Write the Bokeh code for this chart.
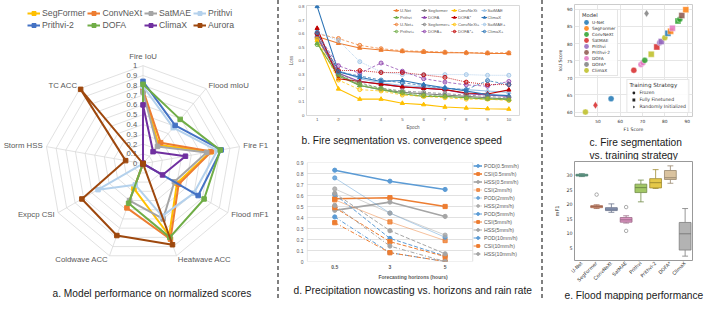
import math
from bokeh.plotting import figure
from bokeh.models import Legend, LegendItem, Title, Div, FixedTicker, FactorRange, ColumnDataSource
from bokeh.transform import dodge
from bokeh.layouts import row, column
from bokeh.embed import file_html
from bokeh.resources import INLINE
from bokeh.core.properties import value

# ================= (a) radar data =================
radar_axes = ["Fire IoU", "Flood mIoU", "Fire F1", "Flood mF1", "Heatwave ACC",
              "Coldwave ACC", "Expcp CSI", "Storm HSS", "TC ACC"]
radar_ticks = [0, 0.1, 0.2, 0.3, 0.4, 0.5, 0.6, 0.7, 0.8, 0.9, 1]
radar_tick_labels = ["0", "0.1", "0.2", "0.3", "0.4", "0.5", "0.6", "0.7", "0.8", "0.9", "1"]
radar_models = ["SegFormer", "ConvNeXt", "SatMAE", "Prithvi", "Prithvi-2", "DOFA", "ClimaX", "Aurora"]
segformer_norm = [0.74, 0.25, 0.70, 0.40, 0.78, 0.27, 0, 0, 0]
convnext_norm = [0.75, 0.28, 0.71, 0.42, 0.82, 0.48, 0, 0, 0]
satmae_norm = [0.73, 0.23, 0.66, 0.37, 0.60, 0.40, 0, 0, 0]
prithvi_norm = [0.79, 0.48, 0.77, 0.60, 0.57, 0.23, 0.53, 0, 0]
prithvi2_norm = [0.84, 0.51, 0.81, 0.65, 0, 0, 0, 0, 0]
dofa_norm = [0.81, 0.59, 0.80, 0.72, 0.80, 0.43, 0, 0, 0]
climax_norm = [0.60, 0.16, 0.44, 0.23, 0, 0, 0, 0, 0]
aurora_norm = [0, 0, 0, 0, 0.88, 0.78, 0.72, 0.18, 0.99]

# ================= (b) convergence data =================
epochs = [1, 2, 3, 4, 5, 6, 7, 8, 9, 10]
loss_ticks = [0, 0.1, 0.2, 0.3, 0.4, 0.5, 0.6, 0.7, 0.8]
loss_tick_labels = ["0", "0.1", "0.2", "0.3", "0.4", "0.5", "0.6", "0.7", "0.8"]
b_names = ["U-Net", "Segformer", "ConvNeXt", "SatMAE", "Prithvi", "DOFA", "DOFA*", "ClimaX",
           "U-Net+", "Segformer+", "ConvNeXt+", "SatMAE+", "Prithvi+", "DOFA+", "DOFA*+", "ClimaX+"]
unet_loss = [0.58, 0.53, 0.495, 0.48, 0.47, 0.465, 0.46, 0.46, 0.455, 0.455]
segformer_loss = [0.57, 0.30, 0.22, 0.19, 0.17, 0.16, 0.15, 0.14, 0.13, 0.12]
convnext_loss = [0.55, 0.195, 0.12, 0.12, 0.09, 0.08, 0.062, 0.055, 0.05, 0.047]
satmae_loss = [0.60, 0.33, 0.27, 0.24, 0.22, 0.21, 0.20, 0.19, 0.18, 0.17]
prithvi_loss = [0.53, 0.29, 0.22, 0.19, 0.16, 0.14, 0.14, 0.13, 0.12, 0.12]
dofa_loss = [0.58, 0.31, 0.25, 0.23, 0.21, 0.20, 0.19, 0.16, 0.15, 0.14]
dofastar_loss = [0.64, 0.27, 0.25, 0.23, 0.21, 0.20, 0.19, 0.165, 0.158, 0.188]
climax_loss = [0.80, 0.32, 0.28, 0.25, 0.257, 0.227, 0.204, 0.18, 0.153, 0.146]
unet_r_loss = [0.60, 0.565, 0.515, 0.49, 0.475, 0.47, 0.465, 0.46, 0.46, 0.46]
segformer_r_loss = [0.58, 0.31, 0.24, 0.20, 0.18, 0.17, 0.16, 0.15, 0.14, 0.13]
convnext_r_loss = [0.56, 0.26, 0.19, 0.18, 0.15, 0.14, 0.13, 0.12, 0.12, 0.11]
satmae_r_loss = [0.61, 0.55, 0.395, 0.32, 0.30, 0.30, 0.30, 0.30, 0.295, 0.295]
prithvi_r_loss = [0.52, 0.30, 0.23, 0.20, 0.17, 0.15, 0.14, 0.13, 0.125, 0.115]
dofa_r_loss = [0.60, 0.365, 0.31, 0.385, 0.325, 0.27, 0.245, 0.225, 0.215, 0.25]
dofastar_r_loss = [0.60, 0.33, 0.33, 0.315, 0.315, 0.298, 0.28, 0.245, 0.227, 0.227]
climax_r_loss = [0.61, 0.32, 0.29, 0.26, 0.24, 0.22, 0.20, 0.19, 0.256, 0.227]

# ================= (d) precipitation data =================
horizons = ["0.5", "3", "5"]
score_ticks = [0, 0.1, 0.2, 0.3, 0.4, 0.5, 0.6, 0.7, 0.8, 0.9]
score_tick_labels = ["0", "0.1", "0.2", "0.3", "0.4", "0.5", "0.6", "0.7", "0.8", "0.9"]
d_names = ["POD(0.5mm/h)", "CSI(0.5mm/h)", "HSS(0.5mm/h)", "CSI(2mm/h)", "POD(2mm/h)", "HSS(2mm/h)",
           "POD(5mm/h)", "CSI(5mm/h)", "HSS(5mm/h)", "POD(10mm/h)", "CSI(10mm/h)", "HSS(10mm/h)"]
pod_05 = [0.83, 0.73, 0.655]
csi_05 = [0.57, 0.58, 0.50]
hss_05 = [0.465, 0.54, 0.41]
csi_2 = [0.56, 0.36, 0.19]
pod_2 = [0.76, 0.44, 0.22]
hss_2 = [0.66, 0.44, 0.24]
pod_5 = [0.61, 0.21, 0.05]
csi_5 = [0.49, 0.18, 0.045]
hss_5 = [0.62, 0.28, 0.07]
pod_10 = [0.405, 0.08, 0.0]
csi_10 = [0.353, 0.08, 0.0]
hss_10 = [0.51, 0.14, 0.0]

# ================= (c) training strategy data =================
c_models = ["U-Net", "SegFormer", "ConvNeXt", "SatMAE", "Prithvi", "Prithvi-2", "DOFA", "DOFA*", "ClimaX"]
c_strategies = ["Frozen", "Fully Finetuned", "Randomly Initialized"]
pt_model = ["ClimaX", "SatMAE", "U-Net", "SatMAE", "DOFA", "DOFA", "ConvNeXt", "DOFA*", "ClimaX",
            "SatMAE", "Prithvi", "Prithvi", "ClimaX", "U-Net", "SegFormer", "DOFA", "ConvNeXt",
            "ConvNeXt", "Prithvi-2", "SegFormer"]
pt_strategy = ["Frozen", "Randomly Initialized", "Frozen", "Frozen", "Frozen", "Frozen", "Frozen",
               "Randomly Initialized", "Fully Finetuned", "Fully Finetuned", "Frozen", "Fully Finetuned",
               "Frozen", "Fully Finetuned", "Fully Finetuned", "Fully Finetuned", "Fully Finetuned",
               "Frozen", "Fully Finetuned", "Fully Finetuned"]
pt_f1 = [44.4, 48.9, 55.9, 66.1, 69.3, 70.2, 71.0, 71.8, 73.9, 76.4, 77.7, 78.4, 80.0, 81.4, 82.6,
         83.4, 85.9, 86.7, 87.6, 89.4]
pt_iou = [60.0, 62.0, 63.9, 72.2, 73.9, 74.4, 75.1, 88.8, 76.9, 79.0, 80.2, 80.6, 81.7, 83.0, 83.6,
          84.5, 86.6, 87.1, 88.2, 89.9]

# ================= (e) flood mapping data =================
e_models = ["U-Net", "SegFormer", "ConvNeXt", "SatMAE", "Prithvi", "Prithvi-2", "DOFA*", "ClimaX"]
e_low = [29.5, 18.5, 17.2, 13.5, 20.8, 25.4, 27.2, 2.1]
e_q1 = [29.7, 18.8, 17.8, 13.8, 24.0, 25.6, 28.5, 4.2]
e_median = [30.0, 19.2, 18.3, 14.6, 25.7, 27.4, 29.1, 9.8]
e_q3 = [30.3, 19.5, 18.8, 15.4, 26.9, 28.8, 31.6, 13.7]
e_high = [30.5, 19.8, 20.1, 16.0, 28.3, 31.9, 33.2, 18.5]
e_out_model = ["SegFormer", "SatMAE", "SatMAE"]
e_out_value = [23.3, 19.0, 10.8]

# ---------------- styles ----------------
ARIAL = "Liberation Sans"
DJV = "DejaVu Sans"
TXT = "#595959"
NAN = float("nan")


def caption(text, offset):
    return Title(text=text, align="left", offset=offset, text_font=ARIAL, text_font_size="10.2px",
                 text_font_style="normal", text_color="#1a1a1a", standoff=0)


def style_axes(p, font, tick_size, label_size, color, label_style="normal", tick_standoff=2,
               label_standoff=2):
    for ax in (p.xaxis, p.yaxis):
        ax.axis_line_color = None
        ax.major_tick_line_color = None
        ax.minor_tick_line_color = None
        ax.major_tick_out = 0
        ax.major_tick_in = 0
        ax.minor_tick_out = 0
        ax.minor_tick_in = 0
        ax.major_label_text_font = font
        ax.major_label_text_font_size = tick_size
        ax.major_label_text_color = color
        ax.major_label_standoff = tick_standoff
        ax.axis_label_text_font = font
        ax.axis_label_text_font_size = label_size
        ax.axis_label_text_font_style = label_style
        ax.axis_label_text_color = color
        ax.axis_label_standoff = label_standoff


# ================= panel a =================
n_ax = len(radar_axes)
ang = [math.radians(90 - 360.0 / n_ax * k) for k in range(n_ax)]
cosv = [math.cos(a) for a in ang]
sinv = [math.sin(a) for a in ang]

pa = figure(width=275, height=300, x_range=(-1.454, 1.352), y_range=(-1.396, 1.665),
            x_axis_type=None, y_axis_type=None, output_backend="svg", toolbar_location=None,
            min_border=0)
pa.outline_line_color = None
pa.grid.visible = False

ring_xs = [[r * c for c in cosv] + [r * cosv[0]] for r in radar_ticks[1:]]
ring_ys = [[r * s for s in sinv] + [r * sinv[0]] for r in radar_ticks[1:]]
pa.multi_line(ring_xs, ring_ys, line_color="#d9d9d9", line_width=0.8)
rmax = radar_ticks[-1]
pa.segment(x0=[0] * n_ax, y0=[0] * n_ax, x1=[rmax * c for c in cosv], y1=[rmax * s for s in sinv],
           line_color="#d9d9d9", line_width=0.8)
pa.text(x=[-0.06] * len(radar_ticks), y=radar_ticks, text=radar_tick_labels, text_align="right",
        text_baseline="middle", text_font=value(ARIAL), text_font_size="7.6px", text_color=TXT)

for align in ["left", "right", "center"]:
    lx, ly, lt = [], [], []
    for k, name in enumerate(radar_axes):
        c, s = cosv[k], sinv[k]
        a = "left" if c > 0.1 else ("right" if c < -0.1 else "center")
        if a != align:
            continue
        rr = 1.04 if a != "center" else 1.09
        lx.append(rr * c)
        ly.append(rr * s)
        lt.append(name)
    pa.text(x=lx, y=ly, text=lt, text_align=align, text_baseline="middle", text_font=value(ARIAL),
            text_font_size="7.8px", text_color=TXT)

radar_values = [segformer_norm, convnext_norm, satmae_norm, prithvi_norm, prithvi2_norm, dofa_norm,
                climax_norm, aurora_norm]
radar_colors = ["#FFC000", "#ED7D31", "#A5A5A5", "#B4D1EC", "#4472C4", "#70AD47", "#7030A0", "#9E480E"]
items_a = []
for name, vals, col in zip(radar_models, radar_values, radar_colors):
    xs = [v * c for v, c in zip(vals, cosv)]
    ys = [v * s for v, s in zip(vals, sinv)]
    l = pa.line(xs + [xs[0]], ys + [ys[0]], line_color=col, line_width=2)
    m = pa.scatter(xs, ys, marker="square", size=4.5, color=col)
    items_a.append(LegendItem(label=name, renderers=[l, m]))
leg_a = Legend(items=items_a, orientation="horizontal", ncols=4, location=(27, 270),
               label_text_font=ARIAL, label_text_font_size="8.7px", label_text_color=TXT,
               glyph_width=13, glyph_height=10, label_height=10, label_standoff=2, spacing=2,
               padding=2, margin=0, border_line_color=None, background_fill_alpha=0)
pa.add_layout(leg_a, "center")
pa.text(x=[-0.923], y=[-1.327], text=["a. Model performance on normalized scores"], text_align="left",
        text_baseline="middle", text_font=value(ARIAL), text_font_size="10.2px", text_color="#1a1a1a")

# ================= panel b =================
pb = figure(width=258, height=145, x_range=(0.5, 10.5), y_range=(0, 0.807), output_backend="svg",
            toolbar_location=None, min_border_left=25, min_border_right=20, min_border_top=5,
            min_border_bottom=29, x_axis_label="Epoch", y_axis_label="Loss")
pb.outline_line_color = "#d9d9d9"
pb.grid.visible = False
pb.xaxis.ticker = FixedTicker(ticks=epochs)
pb.yaxis.ticker = FixedTicker(ticks=loss_ticks)
pb.yaxis.major_label_overrides = dict(zip(loss_ticks, loss_tick_labels))
style_axes(pb, ARIAL, "4.4px", "4.6px", TXT, tick_standoff=2, label_standoff=1)

b_losses = [unet_loss, segformer_loss, convnext_loss, satmae_loss, prithvi_loss, dofa_loss,
            dofastar_loss, climax_loss, unet_r_loss, segformer_r_loss, convnext_r_loss, satmae_r_loss,
            prithvi_r_loss, dofa_r_loss, dofastar_r_loss, climax_r_loss]
b_base_colors = ["#ED7D31", "#7F7F7F", "#FFC000", "#9DC3E6", "#70AD47", "#8E44AD", "#C00000", "#2E75B6"]
b_dash_r = ["3 2", "3 2", "3 2", "1 1", "3 2", "3 2", "1 1", "3 2"]
items_b = []
for i, (name, ls) in enumerate(zip(b_names, b_losses)):
    col = b_base_colors[i % 8]
    if i < 8:
        l = pb.line(epochs, ls, line_color=col, line_width=1.1)
        m = pb.scatter(epochs, ls, marker="triangle", size=4.2, color=col)
    else:
        l = pb.line(epochs, ls, line_color=col, line_width=1.0, line_dash=b_dash_r[i % 8], line_alpha=0.75)
        m = pb.scatter(epochs, ls, marker="circle", size=4.0, line_color=col, fill_color=col,
                       fill_alpha=0.35, line_alpha=0.85)
    items_b.append(LegendItem(label=name, renderers=[l, m]))
leg_b = Legend(items=items_b, orientation="horizontal", ncols=4, location=(87, 81),
               label_text_font=ARIAL, label_text_font_size="4.2px", label_text_color=TXT,
               glyph_width=6, glyph_height=6, label_height=6, label_standoff=1,
               spacing=1, padding=1, margin=0, border_line_color=None, background_fill_alpha=0)
pb.add_layout(leg_b, "center")
pb.add_layout(caption("b. Fire segmentation vs. convergence speed", -5), "below")

# ================= panel d =================
h_pos = list(range(len(horizons)))
pdd = figure(width=258, height=155, x_range=(-0.512, 3.348), y_range=(0, 0.9),
             output_backend="svg", toolbar_location=None, min_border_left=23, min_border_right=3,
             min_border_top=17, min_border_bottom=39, x_axis_label="Forecasting horizons (hours)")
pdd.outline_line_color = None
pdd.grid.visible = False
pdd.xaxis.ticker = FixedTicker(ticks=h_pos)
pdd.xaxis.major_label_overrides = dict(zip(h_pos, horizons))
pdd.yaxis.ticker = FixedTicker(ticks=score_ticks)
pdd.yaxis.major_label_overrides = dict(zip(score_ticks, score_tick_labels))
style_axes(pdd, ARIAL, "5px", "5px", TXT, label_style="bold", tick_standoff=3, label_standoff=2)
pdd.xaxis.major_label_text_font_style = "bold"
# plot-area gridlines and side borders (span the category bands)
band_lo, band_hi = h_pos[0] - 0.5, h_pos[-1] + 0.5
pdd.segment(x0=[band_lo] * len(score_ticks), y0=score_ticks, x1=[band_hi] * len(score_ticks),
            y1=score_ticks, line_color="#d9d9d9", line_width=0.8)
pdd.segment(x0=[band_lo, band_hi], y0=[score_ticks[0]] * 2, x1=[band_lo, band_hi],
            y1=[score_ticks[-1]] * 2, line_color="#d9d9d9", line_width=0.8)

d_series = [pod_05, csi_05, hss_05, csi_2, pod_2, hss_2, pod_5, csi_5, hss_5, pod_10, csi_10, hss_10]
d_colors = {"POD": "#5B9BD5", "CSI": "#ED7D31", "HSS": "#A5A5A5"}
d_style = {"0.5mm/h": ("solid", 1.6, 1.0), "2mm/h": ("solid", 0.8, 0.6),
           "5mm/h": ("4 2", 1.0, 1.0), "10mm/h": ("4 2 1 2", 1.0, 1.0)}
items_d = []
for name, vals in zip(d_names, d_series):
    metric = name[:3]
    rate = name[4:-1]
    dash, lw, al = d_style[rate]
    col = d_colors[metric]
    l = pdd.line(h_pos, vals, line_color=col, line_width=lw, line_dash=dash, line_alpha=al)
    mk = "square" if metric == "CSI" else "circle"
    m = pdd.scatter(h_pos, vals, marker=mk, size=4.2, color=col, alpha=max(al, 0.8))
    items_d.append(LegendItem(label=name, renderers=[l, m]))
leg_d = Legend(items=items_d, location="top_right", label_text_font=ARIAL, label_text_font_size="5.2px",
               label_text_color=TXT, glyph_width=9, glyph_height=7, label_height=7, label_standoff=2,
               spacing=1, padding=1, margin=0, border_line_color=None, background_fill_alpha=0)
pdd.add_layout(leg_d, "center")
pdd.add_layout(caption("d. Precipitation nowcasting vs. horizons and rain rate", -13), "below")

# ================= panel c =================
pc = figure(width=162, height=160, x_range=(39.5, 92.4), y_range=(58.7, 91.4), output_backend="svg",
            toolbar_location=None, min_border_left=24, min_border_right=15, min_border_top=4,
            min_border_bottom=38, x_axis_label="F1 Score", y_axis_label="IoU Score")
pc.outline_line_color = "#cccccc"
pc.grid.grid_line_color = "#e6e6e6"
pc.xaxis.ticker = FixedTicker(ticks=[50, 60, 70, 80, 90])
pc.yaxis.ticker = FixedTicker(ticks=[60, 65, 70, 75, 80, 85, 90])
style_axes(pc, DJV, "4.3px", "4.6px", "#333333", tick_standoff=2, label_standoff=1)

tab10 = ["#1f77b4", "#ff7f0e", "#2ca02c", "#d62728", "#9467bd", "#8c564b", "#e377c2", "#7f7f7f", "#bcbd22"]
cmap = dict(zip(c_models, tab10))
mmap = dict(zip(c_strategies, ["circle", "square", "diamond"]))
smap = dict(zip(c_strategies, [6.0, 6.0, 7.5]))
src_c = ColumnDataSource(dict(f1=pt_f1, iou=pt_iou,
                              color=[cmap[m] for m in pt_model],
                              marker=[mmap[s] for s in pt_strategy],
                              size=[smap[s] for s in pt_strategy]))
pc.scatter("f1", "iou", source=src_c, marker="marker", size="size", fill_color="color",
           line_color="white", line_width=0.4, fill_alpha=0.85)
model_items = []
for mname in c_models:
    r = pc.ellipse(x=[NAN], y=[NAN], width=6, height=6, width_units="screen", height_units="screen",
                   fill_color=cmap[mname], line_color=None, fill_alpha=0.85)
    model_items.append(LegendItem(label=mname, renderers=[r]))
leg_cm = Legend(items=model_items, title="Model", location="top_left", label_text_font=DJV,
                label_text_font_size="4.3px", label_text_color="#333333", title_text_font=DJV,
                title_text_font_size="5.2px", title_text_font_style="normal", title_text_color="#333333",
                title_standoff=1, glyph_width=8, glyph_height=6, label_height=5, label_standoff=2,
                spacing=0, padding=2, margin=5, border_line_color="#cccccc", border_line_width=0.6,
                background_fill_alpha=0.85)
pc.add_layout(leg_cm, "center")
strat_items = []
for sname in c_strategies:
    r = pc.scatter(x=[NAN], y=[NAN], marker=mmap[sname], size=4, fill_color="#222222", line_color=None)
    strat_items.append(LegendItem(label=sname, renderers=[r]))
leg_cs = Legend(items=strat_items, title="Training Strategy", location="bottom_right", label_text_font=DJV,
                label_text_font_size="4.6px", label_text_color="#333333", title_text_font=DJV,
                title_text_font_size="5.6px", title_text_font_style="normal", title_text_color="#333333",
                title_standoff=1, glyph_width=8, glyph_height=7, label_height=6, label_standoff=2,
                spacing=0, padding=2, margin=3, border_line_color="#cccccc", border_line_width=0.6,
                background_fill_alpha=0.85)
pc.add_layout(leg_cs, "center")
pc.add_layout(caption("c. Fire segmentation", 15), "below")
pc.add_layout(caption("vs. training strategy", 15), "below")

# ================= panel e =================
pe = figure(width=162, height=140, x_range=FactorRange(factors=e_models), y_range=(0.6, 34.7),
            output_backend="svg", toolbar_location=None, min_border_left=29, min_border_right=15,
            min_border_top=1, min_border_bottom=34, y_axis_label="mF1")
pe.outline_line_color = "#999999"
pe.grid.visible = False
pe.yaxis.ticker = FixedTicker(ticks=[5, 10, 15, 20, 25, 30])
style_axes(pe, DJV, "4.8px", "5px", "#333333", tick_standoff=2, label_standoff=3)
pe.xaxis.major_label_orientation = math.pi / 4

e_fill = ["#70b79f", "#e99575", "#94a2c4", "#dc95c1", "#a2c765", "#e5c848", "#dac39f", "#b3b3b3"]
e_line = ["#4f8070", "#a36852", "#687189", "#9a6887", "#718b47", "#a08c32", "#99886f", "#7d7d7d"]
src_e = ColumnDataSource(dict(model=e_models, low=e_low, q1=e_q1, med=e_median, q3=e_q3, high=e_high,
                              fill=e_fill, line=e_line))
xr = pe.x_range
pe.segment(x0="model", y0="q3", x1="model", y1="high", source=src_e, line_color="line", line_width=0.8)
pe.segment(x0="model", y0="low", x1="model", y1="q1", source=src_e, line_color="line", line_width=0.8)
pe.segment(x0=dodge("model", -0.2, range=xr), y0="high", x1=dodge("model", 0.2, range=xr), y1="high",
           source=src_e, line_color="line", line_width=0.8)
pe.segment(x0=dodge("model", -0.2, range=xr), y0="low", x1=dodge("model", 0.2, range=xr), y1="low",
           source=src_e, line_color="line", line_width=0.8)
pe.vbar(x="model", bottom="q1", top="q3", width=0.8, source=src_e, fill_color="fill", line_color="line",
        line_width=0.8)
pe.segment(x0=dodge("model", -0.4, range=xr), y0="med", x1=dodge("model", 0.4, range=xr), y1="med",
           source=src_e, line_color="line", line_width=1.0)
pe.scatter(e_out_model, e_out_value, marker="circle", size=3.5, fill_color=None, line_color="#888888",
           line_width=0.7)
pe.add_layout(caption("e. Flood mapping performance", -10), "below")


# ================= separators & layout =================
def sep():
    return Div(text='<div style="width:1.7px;height:300px;margin-left:2px;'
                    'background:repeating-linear-gradient(to bottom,#808080 0px,#808080 4px,'
                    'transparent 4px,transparent 7px);"></div>', width=6, height=300, margin=0)


layout = row(pa, sep(), column(pb, pdd, spacing=0), sep(), column(pc, pe, spacing=0), spacing=0)
open("out.html", "w").write(file_html(layout, INLINE))
